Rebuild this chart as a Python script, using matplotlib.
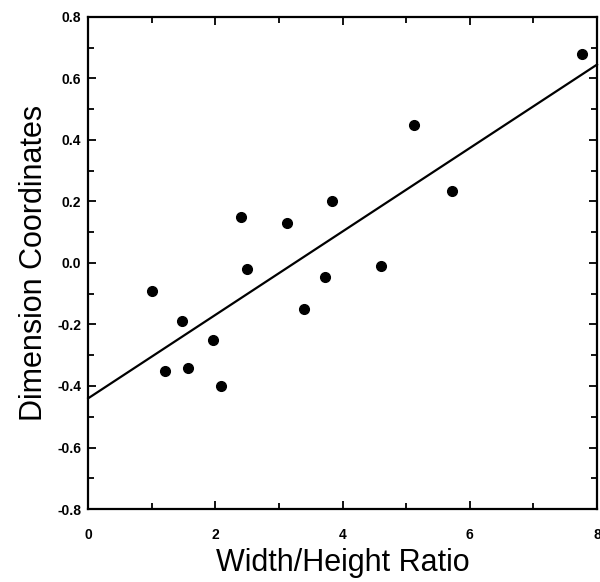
import matplotlib
matplotlib.use("Agg")
import matplotlib.pyplot as plt
from matplotlib.ticker import MultipleLocator, FormatStrFormatter

# Data
width_height_ratio = [1.00, 1.21, 1.48, 1.57, 1.97, 2.09, 2.41, 2.49, 3.13,
                      3.83, 3.72, 3.40, 4.60, 5.13, 5.72, 7.76]
dimension_coord = [-0.09, -0.35, -0.19, -0.34, -0.25, -0.40, 0.15, -0.02, 0.13,
                   0.20, -0.045, -0.15, -0.01, 0.45, 0.235, 0.68]
fit_x = [0, 8]
fit_y = [-0.44, 0.645]

x_ticks = [0, 2, 4, 6, 8]
y_ticks = [-0.8, -0.6, -0.4, -0.2, 0.0, 0.2, 0.4, 0.6, 0.8]

plt.rcParams['font.family'] = ['Liberation Sans', 'DejaVu Sans']

fig = plt.figure(figsize=(6.0, 5.82), dpi=100)
ax = fig.add_axes([0.147, 0.1254, 0.848, 0.8455])

ax.plot(fit_x, fit_y, color='black', linewidth=1.6, clip_on=False)
ax.plot(width_height_ratio, dimension_coord, 'o', color='black',
        markersize=7, clip_on=False)

ax.set_xlim(0, 8)
ax.set_ylim(-0.8, 0.8)
ax.set_xticks(x_ticks)
ax.set_yticks(y_ticks)
ax.xaxis.set_minor_locator(MultipleLocator(1))
ax.yaxis.set_minor_locator(MultipleLocator(0.1))
ax.xaxis.set_major_formatter(FormatStrFormatter('%d'))
ax.yaxis.set_major_formatter(FormatStrFormatter('%.1f'))

ax.tick_params(which='both', direction='in', top=True, right=True,
               width=1.3, labelsize=10)
ax.tick_params(which='major', length=6)
ax.tick_params(which='minor', length=4)
ax.tick_params(axis='x', pad=14)
ax.tick_params(axis='y', pad=5)
for lab in ax.get_xticklabels() + ax.get_yticklabels():
    lab.set_fontweight('bold')

for sp in ax.spines.values():
    sp.set_linewidth(1.6)

ax.set_xlabel('Width/Height Ratio', fontsize=22, labelpad=4)
ax.set_ylabel('Dimension Coordinates', fontsize=22, labelpad=6)

fig.savefig('out.png', dpi=100)
